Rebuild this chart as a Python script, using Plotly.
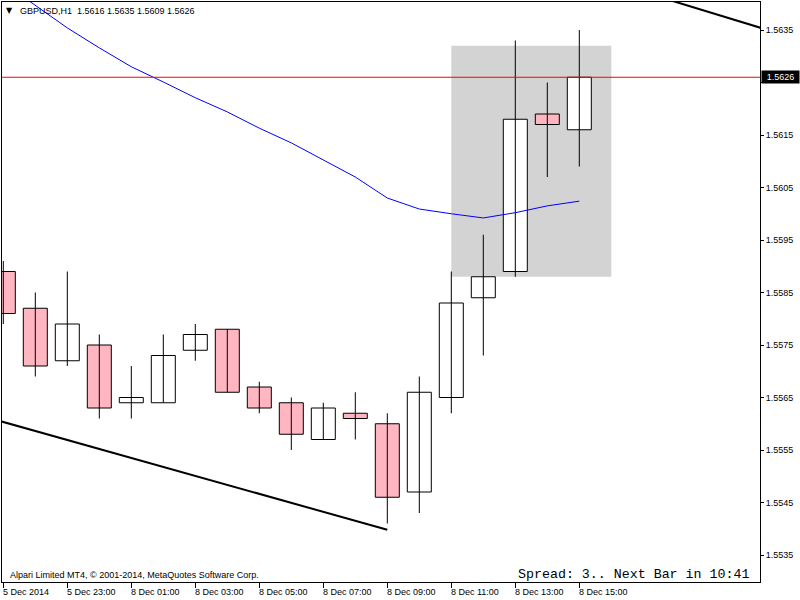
import plotly.graph_objects as go

# ---------------- data ----------------
bar_index = list(range(19))
opens  = [1.5589, 1.5582, 1.5572, 1.5575, 1.5564, 1.5564, 1.5574, 1.5578, 1.5567, 1.5564,
          1.5557, 1.5562, 1.5560, 1.5547, 1.5565, 1.5584, 1.5589, 1.5619, 1.5616]
highs  = [1.5591, 1.5585, 1.5589, 1.5577, 1.5571, 1.5577, 1.5579, 1.5578, 1.5568, 1.5565,
          1.5564, 1.5566, 1.5562, 1.5569, 1.5589, 1.5596, 1.5633, 1.5625, 1.5635]
lows   = [1.5579, 1.5569, 1.5571, 1.5561, 1.5561, 1.5564, 1.5572, 1.5566, 1.5562, 1.5555,
          1.5557, 1.5557, 1.5541, 1.5543, 1.5562, 1.5573, 1.5588, 1.5607, 1.5609]
closes = [1.5581, 1.5571, 1.5579, 1.5563, 1.5565, 1.5573, 1.5577, 1.5566, 1.5563, 1.5558,
          1.5563, 1.5561, 1.5546, 1.5566, 1.5583, 1.5588, 1.5618, 1.5617, 1.5626]

ma_values = [1.56440, 1.56397, 1.56354, 1.56316, 1.56280, 1.56251, 1.56221, 1.56194,
             1.56163, 1.56135, 1.56102, 1.56070, 1.56030, 1.56009, 1.56000, 1.55992,
             1.56002, 1.56015, 1.56024]

trend1_x = [-0.1, 12.0]
trend1_y = [1.55605, 1.55398]
trend2_x = [20.5, 24.0]
trend2_y = [1.56413, 1.56348]

rect_x = [14, 19]
rect_y = [1.5588, 1.5632]

current_price = 1.5626

y_ticks = [1.5535, 1.5545, 1.5555, 1.5565, 1.5575, 1.5585, 1.5595, 1.5605, 1.5615, 1.5625, 1.5635]
x_tick_idx = [0, 2, 4, 6, 8, 10, 12, 14, 16, 18]
x_tick_labels = ["5 Dec 2014", "5 Dec 23:00", "8 Dec 01:00", "8 Dec 03:00", "8 Dec 05:00",
                 "8 Dec 07:00", "8 Dec 09:00", "8 Dec 11:00", "8 Dec 13:00", "8 Dec 15:00"]

title_text = "GBPUSD,H1  1.5616 1.5635 1.5609 1.5626"
copyright_text = "Alpari Limited MT4, © 2001-2014, MetaQuotes Software Corp."
spread_text = "Spread: 3.. Next Bar in 10:41"

# ---------------- layout helpers ----------------
W, H = 800, 600
ML, MR, MT, MB = 2, 40, 2, 18
PW, PH = W - ML - MR, H - MT - MB


def fx(px):
    return (px - ML) / PW


def fy(py):
    return (H - MB - py) / PH


FONT = "Liberation Sans"
UP_FILL, DOWN_FILL = "#FFFFFF", "#FFB6C1"

fig = go.Figure()

# wicks
wx, wy = [], []
for i, h, l in zip(bar_index, highs, lows):
    wx += [i, i, None]
    wy += [l, h, None]
fig.add_trace(go.Scatter(x=wx, y=wy, mode="lines", line=dict(color="#000000", width=1),
                         showlegend=False, hoverinfo="skip"))

# bodies
body_base = [min(o, c) for o, c in zip(opens, closes)]
body_len = [max(abs(c - o), 0.000001) for o, c in zip(opens, closes)]
body_col = [UP_FILL if c >= o else DOWN_FILL for o, c in zip(opens, closes)]
fig.add_trace(go.Bar(x=bar_index, y=body_len, base=body_base, width=0.75,
                     marker=dict(color=body_col, line=dict(color="#000000", width=1)),
                     showlegend=False, hoverinfo="skip"))

fig.add_trace(go.Scatter(x=bar_index, y=ma_values, mode="lines",
                         line=dict(color="#0000FF", width=1), showlegend=False, hoverinfo="skip"))
fig.add_trace(go.Scatter(x=trend1_x, y=trend1_y, mode="lines",
                         line=dict(color="#000000", width=2), showlegend=False, hoverinfo="skip"))
fig.add_trace(go.Scatter(x=trend2_x, y=trend2_y, mode="lines",
                         line=dict(color="#000000", width=2), showlegend=False, hoverinfo="skip"))

fig.add_shape(type="rect", xref="x", yref="y", x0=rect_x[0], x1=rect_x[1], y0=rect_y[0], y1=rect_y[1],
              fillcolor="#D3D3D3", line=dict(width=0), layer="below")
fig.add_shape(type="line", xref="paper", yref="y", x0=0, x1=1, y0=current_price, y1=current_price,
              line=dict(color="#FF0000", width=1), layer="above")

# x tick labels (left aligned at tick)
for i, lab in zip(x_tick_idx, x_tick_labels):
    fig.add_annotation(x=i, xref="x", y=fy(592), yref="paper", text=lab, showarrow=False,
                       xanchor="left", yanchor="middle", xshift=-2,
                       font=dict(family=FONT, size=9, color="#000000"))

# current price label
fig.add_annotation(x=fx(761), xref="paper", y=current_price, yref="y", text="%.4f" % current_price,
                   showarrow=False, xanchor="left", yanchor="middle", width=37, height=12,
                   bgcolor="#000000", font=dict(family=FONT, size=9, color="#FFFFFF"), borderpad=0)

# title
fig.add_annotation(x=fx(9), xref="paper", y=fy(10), yref="paper", text="▼", showarrow=False,
                   xanchor="center", yanchor="middle", font=dict(family="DejaVu Sans", size=8, color="#000000"))
fig.add_annotation(x=fx(18), xref="paper", y=fy(11), yref="paper", text=title_text, showarrow=False,
                   xanchor="left", yanchor="middle", font=dict(family=FONT, size=9, color="#000000"))
# copyright
fig.add_annotation(x=fx(8), xref="paper", y=fy(575), yref="paper", text=copyright_text, showarrow=False,
                   xanchor="left", yanchor="middle", font=dict(family=FONT, size=9, color="#000000"))
# spread
fig.add_annotation(x=fx(751), xref="paper", y=fy(574), yref="paper", text=spread_text, showarrow=False,
                   xanchor="right", yanchor="middle", font=dict(family="Liberation Mono", size=13.3, color="#000000"))

x0 = -1.3 / 32
fig.update_layout(
    width=W, height=H, margin=dict(l=ML, r=MR, t=MT, b=MB),
    paper_bgcolor="#FFFFFF", plot_bgcolor="#FFFFFF",
    showlegend=False, barmode="overlay",
    xaxis=dict(range=[x0, x0 + PW / 32], showgrid=False, zeroline=False,
               showline=True, linecolor="#000000", linewidth=1, mirror=True,
               tickmode="array", tickvals=x_tick_idx, ticks="outside", ticklen=5, tickcolor="#000000",
               showticklabels=False, fixedrange=True),
    yaxis=dict(range=[1.5635 - 552 / 52500, 1.5635 + 28 / 52500], side="right", showgrid=False, zeroline=False,
               showline=True, linecolor="#000000", linewidth=1, mirror=True,
               tickmode="array", tickvals=y_ticks,
               ticktext=["" if abs(v - current_price) < 0.00015 else "%.4f" % v for v in y_ticks],
               ticks="outside", ticklen=3, tickcolor="#000000",
               tickfont=dict(family=FONT, size=9, color="#000000"), fixedrange=True),
)

fig.write_html("out.html")
